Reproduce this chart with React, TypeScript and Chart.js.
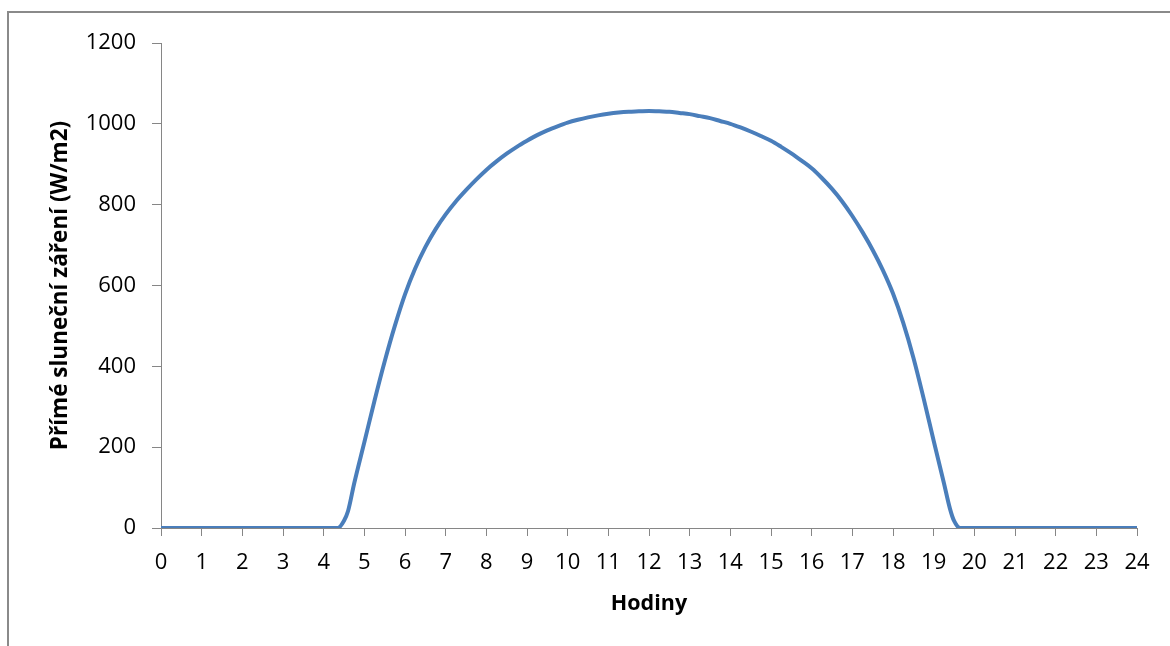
import React, { useEffect, useRef } from 'react';
import { Chart, registerables } from 'chart.js';

Chart.register(...registerables);

// Hours of the day (x values)
const hours = [
  0, 1, 2, 3, 4, 4.35, 4.5, 4.6, 4.75, 5, 5.25, 5.5, 5.75, 6, 6.25, 6.5, 6.75, 7, 7.25, 7.5, 7.75,
  8, 8.25, 8.5, 8.75, 9, 9.25, 9.5, 9.75, 10, 10.25, 10.5, 10.75, 11, 11.25, 11.5, 11.75, 12,
  12.25, 12.5, 12.75, 13, 13.25, 13.5, 13.75, 14, 14.25, 14.5, 14.75, 15, 15.25, 15.5, 15.75, 16,
  16.25, 16.5, 16.75, 17, 17.25, 17.5, 17.75, 18, 18.25, 18.5, 18.75, 19, 19.25, 19.4, 19.5, 19.65,
  20, 21, 22, 23, 24,
];

// Direct solar irradiance (W/m2)
const irradiance = [
  0, 0, 0, 0, 0, 0, 18, 42, 110, 212, 315, 412, 500, 578, 642, 695, 739, 776, 808, 836, 862,
  886, 907, 926, 943, 958, 972, 984, 994, 1003, 1010, 1016, 1021, 1025, 1028, 1030, 1031, 1032,
  1031, 1030, 1027, 1024, 1019, 1014, 1007, 1000, 991, 981, 970, 958, 943, 927, 909, 890,
  866, 839, 808, 772, 732, 688, 638, 580, 508, 422, 322, 216, 112, 48, 18, 0,
  0, 0, 0, 0, 0,
];

const yAxisTitle = 'Přímé sluneční záření (W/m2)';
const xAxisTitle = 'Hodiny';

const FONT = "'Open Sans', 'Noto Sans', sans-serif";
const AXIS_GRAY = '#868686';

export default function App() {
  const canvasRef = useRef<HTMLCanvasElement | null>(null);

  useEffect(() => {
    if (!canvasRef.current) return;
    const points = hours.map((h, i) => ({ x: h, y: irradiance[i] }));
    const chart = new Chart(canvasRef.current, {
      type: 'line',
      data: {
        datasets: [
          {
            data: points,
            borderColor: '#4A7EBB',
            borderWidth: 4,
            pointRadius: 0,
            borderCapStyle: 'round',
            borderJoinStyle: 'round',
            cubicInterpolationMode: 'monotone',
            fill: false,
          },
        ],
      },
      options: {
        responsive: false,
        animation: false,
        devicePixelRatio: 1,
        layout: { padding: { left: 0, right: 33, top: 43, bottom: 0 } },
        plugins: {
          legend: { display: false },
          tooltip: { enabled: false },
        },
        scales: {
          x: {
            type: 'linear',
            min: 0,
            max: 24,
            afterFit: (scale: any) => {
              scale.height = 118;
            },
            ticks: {
              stepSize: 1,
              color: '#000',
              padding: 14,
              maxRotation: 0,
              autoSkip: false,
              font: { family: FONT, size: 22 },
              callback: (v: any) => String(v),
            },
            grid: {
              display: true,
              drawOnChartArea: false,
              drawTicks: true,
              tickLength: 8,
              tickColor: AXIS_GRAY,
            },
            border: { display: true, color: AXIS_GRAY, width: 1 },
            title: {
              display: true,
              text: xAxisTitle,
              color: '#000',
              font: { family: FONT, size: 21.5, weight: 'bold' },
              padding: { top: 0, bottom: 29 },
            },
          },
          y: {
            min: 0,
            max: 1200,
            afterFit: (scale: any) => {
              scale.width = 161;
            },
            ticks: {
              stepSize: 200,
              color: '#000',
              padding: 16,
              font: { family: FONT, size: 22 },
              callback: (v: any) => String(v),
            },
            grid: {
              display: true,
              drawOnChartArea: false,
              drawTicks: true,
              tickLength: 9,
              tickColor: AXIS_GRAY,
            },
            border: { display: true, color: AXIS_GRAY, width: 1 },
            title: {
              display: true,
              text: yAxisTitle,
              color: '#000',
              font: { family: FONT, size: 22.5, weight: 'bold' },
              padding: { top: 47, bottom: 0 },
            },
          },
        },
      },
    });
    return () => chart.destroy();
  }, []);

  return (
    <div
      style={{
        position: 'fixed',
        left: 0,
        top: 0,
        width: 1170,
        height: 646,
        overflow: 'hidden',
        background: '#fff',
      }}
    >
      <div
        style={{
          position: 'absolute',
          left: 7,
          top: 11,
          width: 1300,
          height: 800,
          borderLeft: '2px solid #8a8a8a',
          borderTop: '2px solid #8a8a8a',
        }}
      />
      <canvas
        ref={canvasRef}
        width={1170}
        height={646}
        style={{ position: 'absolute', left: 0, top: 0, width: 1170, height: 646 }}
      />
    </div>
  );
}
